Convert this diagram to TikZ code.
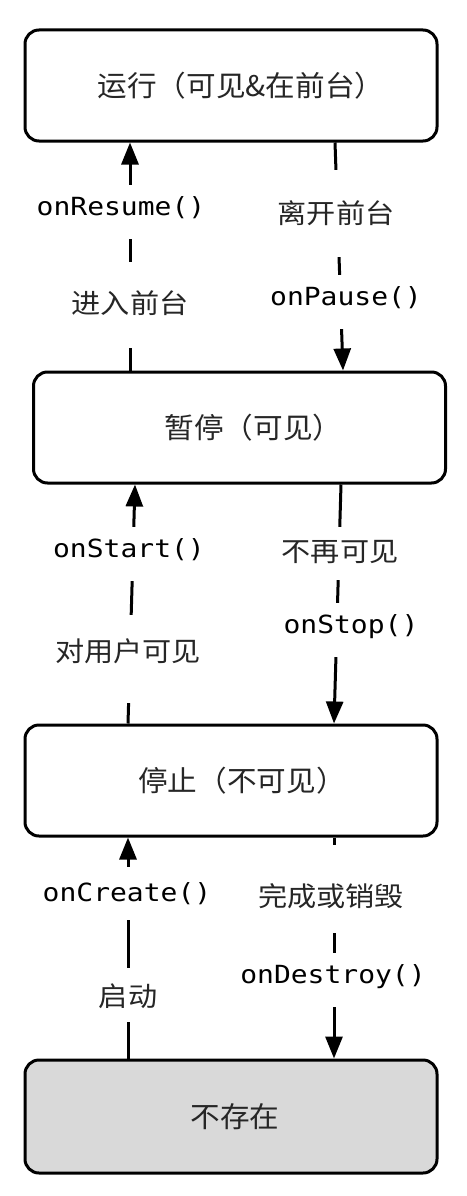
\documentclass[tikz,border=0pt]{standalone}
\usepackage{fontspec}
\usepackage{xcolor}
\newfontfamily\cjk[FakeStretch=1.08]{Noto Sans CJK SC}
\newfontfamily\boxcjk[FakeStretch=1.04]{Noto Sans CJK SC}
\setmonofont[FakeStretch=1.12]{DejaVu Sans Mono}
\usetikzlibrary{arrows.meta}

\begin{document}
\begin{tikzpicture}[x=1pt,y=-1pt,
    zustand/.style={draw=black,line width=3pt,rounded corners=14pt,minimum width=412pt,minimum height=111pt,
      font=\boxcjk\fontsize{28.5}{28.5}\selectfont,text=black!85},
    pfeil/.style={black,line width=3pt,-{Triangle[width=17pt,length=22pt]}},
    luecke/.style 2 args={text height=#1,text depth=#2},
    methode/.style={fill=white,anchor=base,inner xsep=2pt,inner ysep=0pt,luecke={30pt}{24pt},
      font=\ttfamily\fontsize{25}{25}\selectfont},
    grund/.style={fill=white,anchor=base,inner xsep=2pt,inner ysep=0pt,
      font=\cjk\fontsize{27}{27}\selectfont,text=black!85}]
            \useasboundingbox (0,0) rectangle (466,1196);

            \node[zustand] (lauf) at (231,85.5){\hspace*{20pt}运行（可见\&在前台）};
            \node[zustand] (pause) at (239.5,427.5){\hspace*{28pt}暂停（可见）};
            \node[zustand] (stop) at (231,780.5){\hspace*{22pt}停止（不可见）};
            \node[zustand,fill=gray!30,minimum height=113pt] (weg) at (231,1116.5){\hspace*{8pt}不存在};

            \draw[pfeil]([xshift=-109.5pt]pause.north) -- ([xshift=-101pt]lauf.south);
            \draw[pfeil]([xshift=104pt]lauf.south) -- ([xshift=103.5pt]pause.north);
            \draw[pfeil]([xshift=-103pt]stop.north) -- ([xshift=-104.5pt]pause.south);
            \draw[pfeil]([xshift=101.5pt]pause.south) -- ([xshift=103pt]stop.north);
            \draw[pfeil]([xshift=-103pt]weg.north) -- ([xshift=-103pt]stop.south);
            \draw[pfeil]([xshift=103pt]stop.south) -- ([xshift=103pt]weg.north);

            \node[methode] (resume) at (121,215){onResume()};
            \node[grund,luecke={51pt}{35pt}] (vorne) at (130,313){进入前台};
            \node[grund,luecke={53pt}{34pt}] (verlassen) at (336,223){离开前台};
            \node[methode] (onpause) at (346,305){onPause()};
            \node[methode] (start) at (129,557){onStart()};
            \node[grund,luecke={46pt}{42pt}] (sichtbar) at (128,661){对用户可见};
            \node[grund,luecke={34pt}{19pt}] (unsichtbar) at (340,561){不再可见};
            \node[methode] (onstop) at (351,633){onStop()};
            \node[methode,luecke={34pt}{19pt}] (create) at (127,901){onCreate()};
            \node[grund,luecke={38pt}{16pt}] (anfang) at (128,1006){启动};
            \node[grund,luecke={61pt}{27pt}] (ende) at (331,906){完成或销毁};
            \node[methode] (destroy) at (333,983){onDestroy()};
        \end{tikzpicture}
\end{document}
